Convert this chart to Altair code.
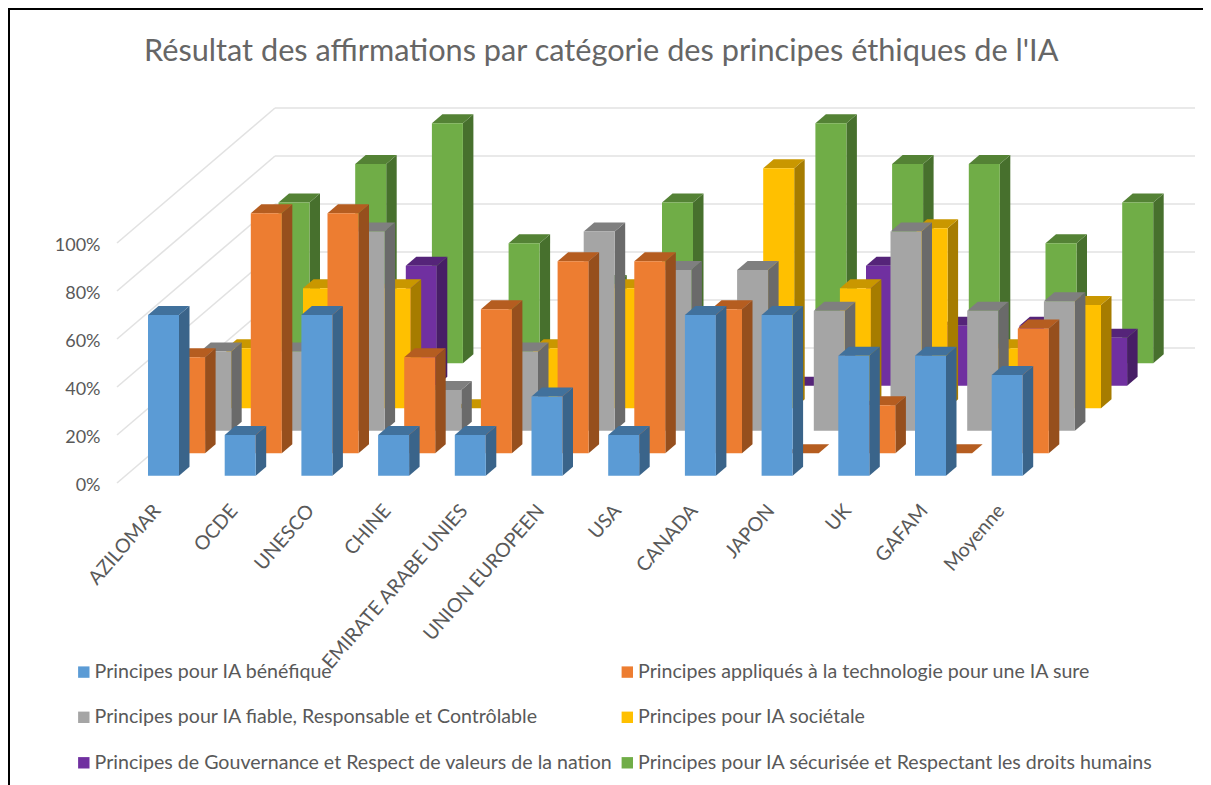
import altair as alt
import pandas as pd

TITLE = "Résultat des affirmations par catégorie des principes éthiques de l'IA"
categories = ["AZILOMAR", "OCDE", "UNESCO", "CHINE", "EMIRATE ARABE UNIES", "UNION EUROPEEN",
              "USA", "CANADA", "JAPON", "UK", "GAFAM", "Moyenne"]
series_names = ["Principes pour IA bénéfique",
                "Principes appliqués à la technologie pour une IA sure",
                "Principes pour IA fiable, Responsable et Contrôlable",
                "Principes pour IA sociétale",
                "Principes de Gouvernance et Respect de valeurs de la nation",
                "Principes pour IA sécurisée et Respectant les droits humains"]
benefique = [67, 17, 67, 17, 17, 33, 17, 67, 67, 50, 50, 42]
technologie = [40, 100, 100, 40, 60, 80, 80, 60, 0, 20, 0, 52]
fiable = [33, 33, 83, 17, 33, 83, 67, 67, 50, 83, 50, 54]
societale = [25, 50, 50, 0, 25, 50, 25, 100, 50, 75, 25, 43]
gouvernance = [0, 25, 50, 8, 25, 25, 0, 0, 50, 25, 25, 20]
securisee = [67, 83, 100, 50, 33, 67, 33, 100, 83, 83, 50, 67]
all_values = [benefique, technologie, fiable, societale, gouvernance, securisee]

front_colors = ["#5B9BD5", "#ED7D31", "#A5A5A5", "#FFC000", "#7030A0", "#70AD47"]
side_colors = ["#3A648A", "#964F1D", "#6A6A6A", "#A67C00", "#471E66", "#47702D"]
top_colors = ["#41719C", "#B55D20", "#7F7F7F", "#C99700", "#552479", "#548235"]
ticks = [0, 20, 40, 60, 80, 100]

TEXT = "#595959"
FONT = "Lato"
W, H = 1078, 375
PX = 2.4                 # pixels per percent
STEP, DX_S = 76.7, 26.1  # category step and per-series depth shift
DY_S = 22.5 / PX
BASE_X, BASE_Y = 31, 7.2 / PX
BAR_W, SIDE_X, SIDE_Y = 31, 10.5, 9 / PX
WALL_X, WALL_Y = 158, 135 / PX

x_q = alt.Scale(domain=[0, W], range=[0, W])
y_q = alt.Scale(domain=[0, H / PX])

fronts, sides, tops = [], [], []
for s, (name, vals) in enumerate(zip(series_names, all_values)):
    for i, v in enumerate(vals):
        x0 = BASE_X + i * STEP + s * DX_S
        x1 = x0 + BAR_W
        y0 = BASE_Y + s * DY_S
        y1 = y0 + v
        fronts.append(dict(s=s, serie=name, x0=x0, x1=x1, y0=y0, y1=y1))
        sides += [dict(s=s, bar=i, x=x1, lo=y0, hi=y1),
                  dict(s=s, bar=i, x=x1 + SIDE_X, lo=y0 + SIDE_Y, hi=y1 + SIDE_Y)]
        tops += [dict(s=s, bar=i, y=y1, a=x0, b=x1),
                 dict(s=s, bar=i, y=y1 + SIDE_Y, a=x0 + SIDE_X, b=x1 + SIDE_X)]
fronts, sides, tops = map(pd.DataFrame, (fronts, sides, tops))

grid_rows = []
for t in ticks:
    grid_rows += [dict(k=f"d{t}", x=0, y=t), dict(k=f"d{t}", x=WALL_X, y=t + WALL_Y),
                  dict(k=f"h{t}", x=WALL_X, y=t + WALL_Y), dict(k=f"h{t}", x=W, y=t + WALL_Y)]

y_axis = alt.Axis(values=ticks, labelExpr="datum.value + '%'", domain=False, ticks=False, grid=False,
                  labelPadding=17, labelFontSize=18, labelColor=TEXT, labelFont=FONT, labelOffset=2, title=None)

grid = alt.Chart(pd.DataFrame(grid_rows)).mark_line(color="#E2E2E2", strokeWidth=1.6).encode(
    x=alt.X("x:Q", scale=x_q, axis=None),
    y=alt.Y("y:Q", scale=y_q, axis=y_axis),
    detail="k:N")

cat_axis = alt.Chart(pd.DataFrame({"c": categories})).mark_rule(opacity=0).encode(
    x=alt.X("c:N", sort=categories,
            scale=alt.Scale(domain=categories, range=[2, 12 * STEP + 2], paddingInner=0, paddingOuter=0),
            axis=alt.Axis(labelAngle=-49, labelAlign="right", labelBaseline="middle", domain=False,
                          ticks=False, labelPadding=24, labelFontSize=19.5, labelColor=TEXT,
                          labelFont=FONT, labelLimit=0, title=None, labelOverlap=False)))

layers = [grid, cat_axis]
legend = alt.Legend(title=None, orient="none", legendX=-43, legendY=554, columns=2, direction="horizontal",
                    symbolType="square", symbolSize=130, symbolStrokeWidth=0, labelFontSize=19.6,
                    labelColor=TEXT, labelFont=FONT, labelLimit=0, labelOffset=1, rowPadding=24.5,
                    columnPadding=4.5, values=series_names)
for s in reversed(range(6)):
    f = fronts[fronts.s == s]
    sd = sides[sides.s == s]
    tp = tops[tops.s == s]
    layers.append(alt.Chart(sd).mark_area(color=side_colors[s], orient="vertical").encode(
        x=alt.X("x:Q", scale=x_q, axis=None), y=alt.Y("lo:Q", scale=y_q, axis=y_axis), y2="hi:Q", detail="bar:N"))
    layers.append(alt.Chart(tp).mark_area(color=top_colors[s], orient="horizontal").encode(
        y=alt.Y("y:Q", scale=y_q, axis=y_axis), x=alt.X("a:Q", scale=x_q, axis=None), x2="b:Q", detail="bar:N"))
    layers.append(alt.Chart(f).mark_rect().encode(
        x=alt.X("x0:Q", scale=x_q, axis=None), x2="x1:Q",
        y=alt.Y("y0:Q", scale=y_q, axis=y_axis), y2="y1:Q",
        color=alt.Color("serie:N", scale=alt.Scale(domain=series_names, range=front_colors), legend=legend)))

frame_left = alt.Chart(pd.DataFrame({"a": [0]})).mark_rule(color="black", strokeWidth=2).encode(
    x=alt.value(-108), y=alt.value(-100), y2=alt.value(677))
frame_top = alt.Chart(pd.DataFrame({"a": [0]})).mark_rule(color="black", strokeWidth=2).encode(
    y=alt.value(-99), x=alt.value(-109), x2=alt.value(1086))
layers += [frame_left, frame_top]

chart = alt.layer(*layers).resolve_scale(x="independent", y="shared", color="shared").properties(
    width=W, height=H,
    title=alt.TitleParams(TITLE, anchor="start", frame="group", dx=27, offset=0, dy=61, fontSize=30.7, font=FONT,
                          fontWeight="normal", color="#666666"),
    padding={"left": 109, "top": 100, "right": 8, "bottom": 302},
    autosize="none", background="white",
).configure_view(stroke=None)

chart.save("out.html", embed_options={"renderer": "svg", "actions": False})
